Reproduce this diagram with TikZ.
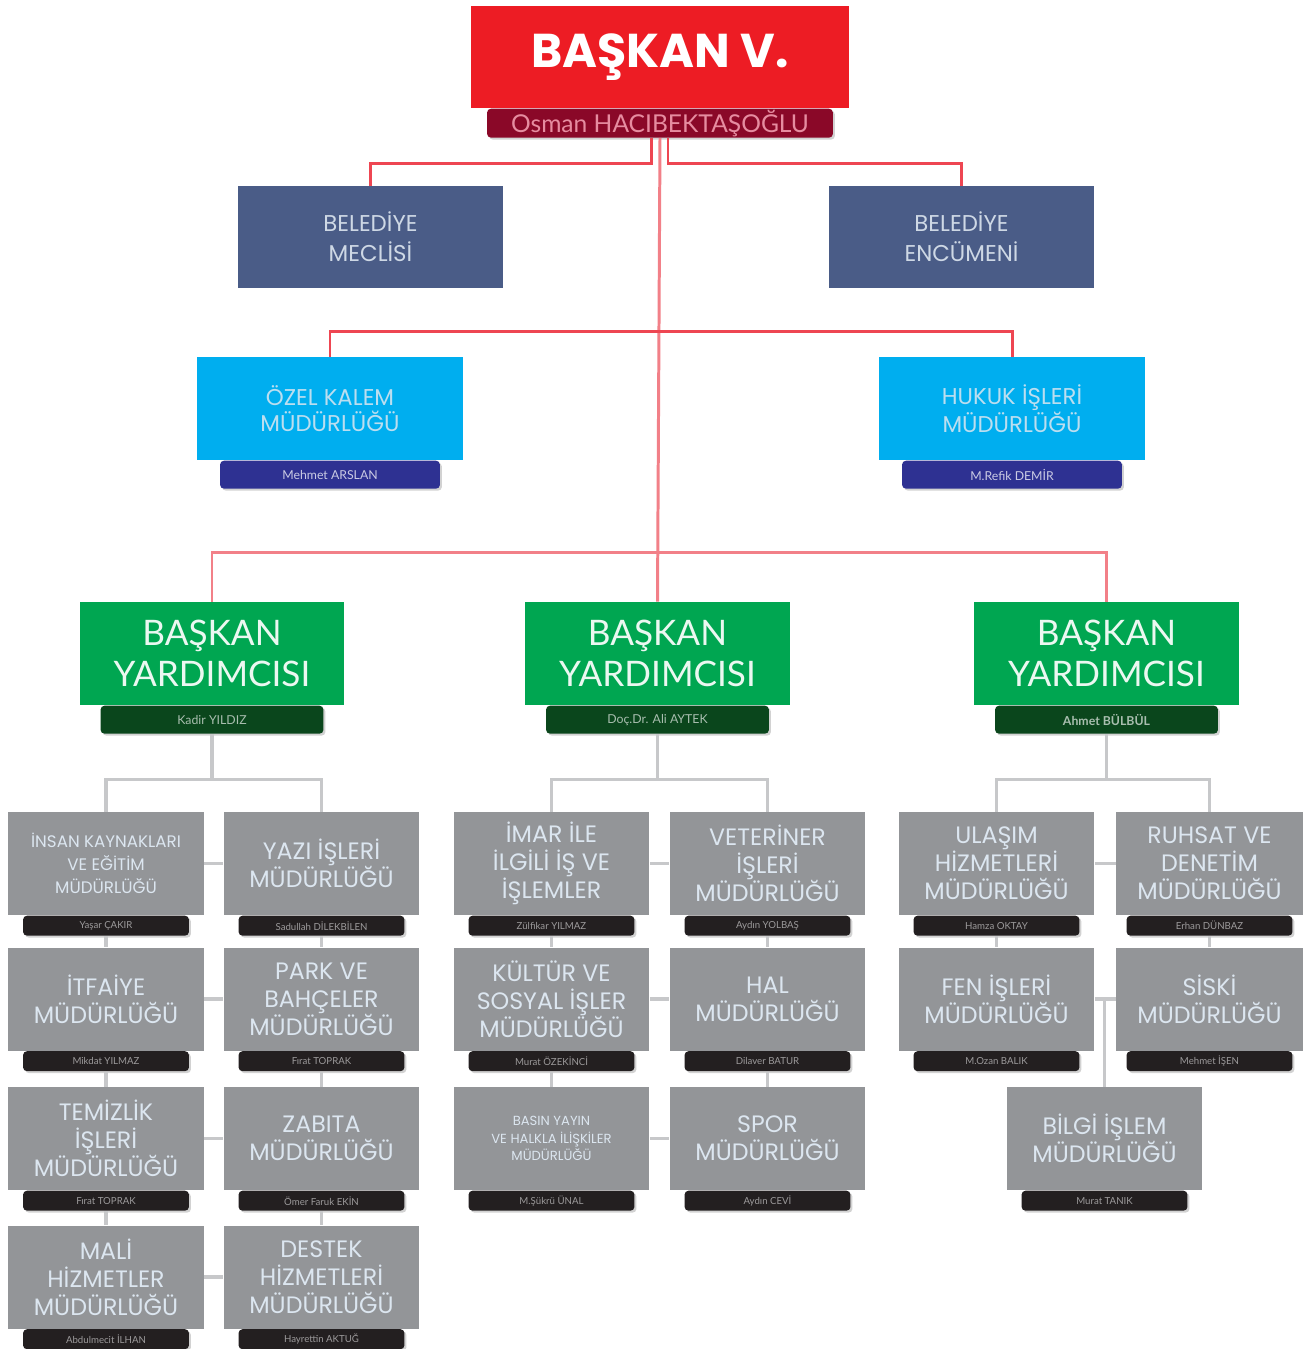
\documentclass[tikz,border=0pt]{standalone}
\usepackage{fontspec}
\setmainfont{Lato}
\newfontfamily\poppins{Poppins}
\usepackage{tikz}
\usetikzlibrary{positioning, calc, shadows}
\definecolor{baskanRed}{RGB}{237,28,36}
\definecolor{tabRed}{RGB}{138,8,40}
\definecolor{tabRedText}{RGB}{230,140,160}
\definecolor{lineRed}{RGB}{238,70,82}
\definecolor{lineRedLight}{RGB}{242,128,136}
\definecolor{meclisBlue}{RGB}{74,92,135}
\definecolor{kalemCyan}{RGB}{0,174,239}
\definecolor{tabIndigo}{RGB}{46,49,146}
\definecolor{yrdGreen}{RGB}{0,166,81}
\definecolor{tabGreen}{RGB}{10,70,28}
\definecolor{birimGray}{RGB}{147,149,152}
\definecolor{tabDark}{RGB}{35,31,32}
\definecolor{lineGray}{RGB}{199,200,202}
\definecolor{lightText}{RGB}{220,230,240}

\begin{document}
\begin{tikzpicture}[x=0.02cm, y=-0.02cm,
    baskanbox/.style={rectangle, fill=baskanRed, minimum width=7.56cm, minimum height=2.04cm,
        inner sep=0pt, text=white, font=\poppins\bfseries\fontsize{27}{30}\selectfont},
    meclisbox/.style={rectangle, fill=meclisBlue, minimum width=5.3cm, minimum height=2.04cm,
        inner sep=0pt, align=center, text=lightText!90!meclisBlue,
        font=\poppins\fontsize{13}{17}\selectfont},
    kalembox/.style={rectangle, fill=kalemCyan, minimum width=5.32cm, minimum height=2.06cm,
        inner sep=0pt, align=center, text=lightText!85!kalemCyan,
        font=\poppins\fontsize{13}{15}\selectfont},
    yrdbox/.style={rectangle, fill=yrdGreen, minimum width=5.3cm, minimum height=2.06cm,
        inner sep=0pt, align=center, text=white!92!yrdGreen,
        font=\fontsize{20}{23}\selectfont},
    birim/.style={rectangle, fill=birimGray, minimum width=3.92cm, minimum height=2.06cm,
        inner sep=0pt, align=center, text=lightText,
        font=\poppins\fontsize{13.5}{16}\selectfont},
    adtab/.style={rectangle, rounded corners=0.8mm, inner sep=0pt, align=center,
        drop shadow={shadow xshift=0.4mm, shadow yshift=-0.4mm, opacity=0.35}},
    kirmiziAd/.style={adtab, fill=tabRed, text=tabRedText, minimum width=6.92cm,
        minimum height=0.58cm, font=\fontsize{14}{16}\selectfont},
    maviAd/.style={adtab, fill=tabIndigo, text=white!75!tabIndigo, minimum width=4.4cm,
        minimum height=0.56cm, font=\fontsize{7}{8}\selectfont},
    yesilAd/.style={adtab, fill=tabGreen, text=white!65!tabGreen, minimum width=4.46cm,
        minimum height=0.56cm, font=\fontsize{7}{8}\selectfont},
    griAd/.style={adtab, fill=tabDark, text=white!55!tabDark, minimum width=3.32cm,
        minimum height=0.4cm, font=\fontsize{5.5}{6}\selectfont},
    kirmiziCizgi/.style={draw=lineRed, line width=1.7pt},
    acikKirmizi/.style={draw=lineRedLight, line width=1.7pt},
    griCizgi/.style={draw=lineGray, line width=2pt}
]
\useasboundingbox[fill=white] (0,0) rectangle (1304,1349);

% top
\node[baskanbox] (baskan) at (660,57) {BAŞKAN V.};
\node[kirmiziAd, below=0pt of baskan] (baskanAd) {Osman HACIBEKTAŞOĞLU};

\node[meclisbox] (meclis) at (370.5,237) {BELEDİYE\\MECLİSİ};
\node[meclisbox] (encumen) at (961.5,237) {BELEDİYE\\ENCÜMENİ};

\node[kalembox] (ozel) at (330,408.5) {ÖZEL KALEM\\MÜDÜRLÜĞÜ};
\node[maviAd, below=0pt of ozel] (ozelAd) {Mehmet ARSLAN};
\node[kalembox] (hukuk) at (1012,408.5) {HUKUK İŞLERİ\\MÜDÜRLÜĞÜ};
\node[maviAd, below=0pt of hukuk] (hukukAd) {M.Refik DEMİR};

% deputies
\node[yrdbox] (yrd1) at (212,653.5) {BAŞKAN\\YARDIMCISI};
\node[yesilAd, below=0pt of yrd1] (yrd1Ad) {Kadir YILDIZ};
\node[yrdbox] (yrd2) at (657.5,653.5) {BAŞKAN\\YARDIMCISI};
\node[yesilAd, below=0pt of yrd2] (yrd2Ad) {Doç.Dr. Ali AYTEK};
\node[yrdbox] (yrd3) at (1106.5,653.5) {BAŞKAN\\YARDIMCISI};
\node[yesilAd, below=0pt of yrd3] (yrd3Ad) {\bfseries Ahmet BÜLBÜL};

% left group
\node[birim, font=\poppins\fontsize{9.5}{13}\selectfont] (insan) at (106,863.5)
    {İNSAN KAYNAKLARI\\VE EĞİTİM\\MÜDÜRLÜĞÜ};
\node[griAd, below=0pt of insan] (insanAd) {Yaşar ÇAKIR};
\node[birim] (yazi) at (321.5,863.5) {YAZI İŞLERİ\\MÜDÜRLÜĞÜ};
\node[griAd, below=0pt of yazi] (yaziAd) {Sadullah DİLEKBİLEN};
\node[birim] (itfaiye) at (106,999) {İTFAİYE\\MÜDÜRLÜĞÜ};
\node[griAd, below=0pt of itfaiye] (itfaiyeAd) {Mikdat YILMAZ};
\node[birim] (park) at (321.5,999) {PARK VE\\BAHÇELER\\MÜDÜRLÜĞÜ};
\node[griAd, below=0pt of park] (parkAd) {Fırat TOPRAK};
\node[birim] (temizlik) at (106,1138.5) {TEMİZLİK\\İŞLERİ\\MÜDÜRLÜĞÜ};
\node[griAd, below=0pt of temizlik] (temizlikAd) {Fırat TOPRAK};
\node[birim] (zabita) at (321.5,1138.5) {ZABITA\\MÜDÜRLÜĞÜ};
\node[griAd, below=0pt of zabita] (zabitaAd) {Ömer Faruk EKİN};
\node[birim] (mali) at (106,1277) {MALİ\\HİZMETLER\\MÜDÜRLÜĞÜ};
\node[griAd, below=0pt of mali] (maliAd) {Abdulmecit İLHAN};
\node[birim] (destek) at (321.5,1277) {DESTEK\\HİZMETLERİ\\MÜDÜRLÜĞÜ};
\node[griAd, below=0pt of destek] (destekAd) {Hayrettin AKTUĞ};

% middle group
\node[birim] (imar) at (551.5,863.5) {İMAR İLE\\İLGİLİ İŞ VE\\İŞLEMLER};
\node[griAd, below=0pt of imar] (imarAd) {Zülfikar YILMAZ};
\node[birim] (veteriner) at (767.5,863.5) {VETERİNER\\İŞLERİ\\MÜDÜRLÜĞÜ};
\node[griAd, below=0pt of veteriner] (veterinerAd) {Aydın YOLBAŞ};
\node[birim] (kultur) at (551.5,999) {KÜLTÜR VE\\SOSYAL İŞLER\\MÜDÜRLÜĞÜ};
\node[griAd, below=0pt of kultur] (kulturAd) {Murat ÖZEKİNCİ};
\node[birim] (hal) at (767.5,999) {HAL\\MÜDÜRLÜĞÜ};
\node[griAd, below=0pt of hal] (halAd) {Dilaver BATUR};
\node[birim, font=\poppins\fontsize{7.5}{10}\selectfont] (basin) at (551.5,1138.5)
    {BASIN YAYIN\\VE HALKLA İLİŞKİLER\\MÜDÜRLÜĞÜ};
\node[griAd, below=0pt of basin] (basinAd) {M.Şükrü ÜNAL};
\node[birim] (spor) at (767.5,1138.5) {SPOR\\MÜDÜRLÜĞÜ};
\node[griAd, below=0pt of spor] (sporAd) {Aydın CEVİ};

% right group
\node[birim] (ulasim) at (996.5,863.5) {ULAŞIM\\HİZMETLERİ\\MÜDÜRLÜĞÜ};
\node[griAd, below=0pt of ulasim] (ulasimAd) {Hamza OKTAY};
\node[birim, minimum width=3.74cm] (ruhsat) at (1209.5,863.5) {RUHSAT VE\\DENETİM\\MÜDÜRLÜĞÜ};
\node[griAd, below=0pt of ruhsat] (ruhsatAd) {Erhan DÜNBAZ};
\node[birim] (fen) at (996.5,999) {FEN İŞLERİ\\MÜDÜRLÜĞÜ};
\node[griAd, below=0pt of fen] (fenAd) {M.Ozan BALIK};
\node[birim, minimum width=3.74cm] (siski) at (1209.5,999) {SİSKİ\\MÜDÜRLÜĞÜ};
\node[griAd, below=0pt of siski] (siskiAd) {Mehmet İŞEN};
\node[birim] (bilgi) at (1104.5,1138.5) {BİLGİ İŞLEM\\MÜDÜRLÜĞÜ};
\node[griAd, below=0pt of bilgi] (bilgiAd) {Murat TANIK};

% red connectors
\draw[kirmiziCizgi] ([xshift=-0.18cm]baskanAd.south) -- ++(0,25) -| (meclis.north);
\draw[kirmiziCizgi] ([xshift=0.16cm]baskanAd.south) -- ++(0,25) -| (encumen.north);
\draw[acikKirmizi] (baskanAd.south) -- (yrd2.north);
\draw[kirmiziCizgi] (ozel.north) -- ++(0,-25) -| (hukuk.north);
\draw[acikKirmizi] (yrd1.north) -- ++(0,-49) -| (yrd3.north);

% gray connectors
\draw[griCizgi] (yrd1Ad.south) -- ++(0,47);
\draw[griCizgi] (insan.north) -- ++(0,-32) -| (yazi.north);
\draw[griCizgi] (yrd2Ad.south) -- ++(0,47);
\draw[griCizgi] (imar.north) -- ++(0,-32) -| (veteriner.north);
\draw[griCizgi] (yrd3Ad.south) -- ++(0,47);
\draw[griCizgi] (ulasim.north) -- ++(0,-32) -| (ruhsat.north);

\draw[griCizgi] (insanAd.south) -- (itfaiye.north);
\draw[griCizgi] (itfaiyeAd.south) -- (temizlik.north);
\draw[griCizgi] (temizlikAd.south) -- (mali.north);
\draw[griCizgi] (yaziAd.south) -- (park.north);
\draw[griCizgi] (parkAd.south) -- (zabita.north);
\draw[griCizgi] (zabitaAd.south) -- (destek.north);
\draw[griCizgi] (imarAd.south) -- (kultur.north);
\draw[griCizgi] (kulturAd.south) -- (basin.north);
\draw[griCizgi] (veterinerAd.south) -- (hal.north);
\draw[griCizgi] (halAd.south) -- (spor.north);
\draw[griCizgi] (ulasimAd.south) -- (fen.north);
\draw[griCizgi] (ruhsatAd.south) -- (siski.north);

\draw[griCizgi] (insan.east) -- (yazi.west);
\draw[griCizgi] (itfaiye.east) -- (park.west);
\draw[griCizgi] (temizlik.east) -- (zabita.west);
\draw[griCizgi] (mali.east) -- (destek.west);
\draw[griCizgi] (imar.east) -- (veteriner.west);
\draw[griCizgi] (kultur.east) -- (hal.west);
\draw[griCizgi] (basin.east) -- (spor.west);
\draw[griCizgi] (ulasim.east) -- (ruhsat.west);
\draw[griCizgi] (fen.east) -- (siski.west);
\draw[griCizgi] (bilgi.north) -- (bilgi.north |- fen.east);
\end{tikzpicture}
\end{document}
